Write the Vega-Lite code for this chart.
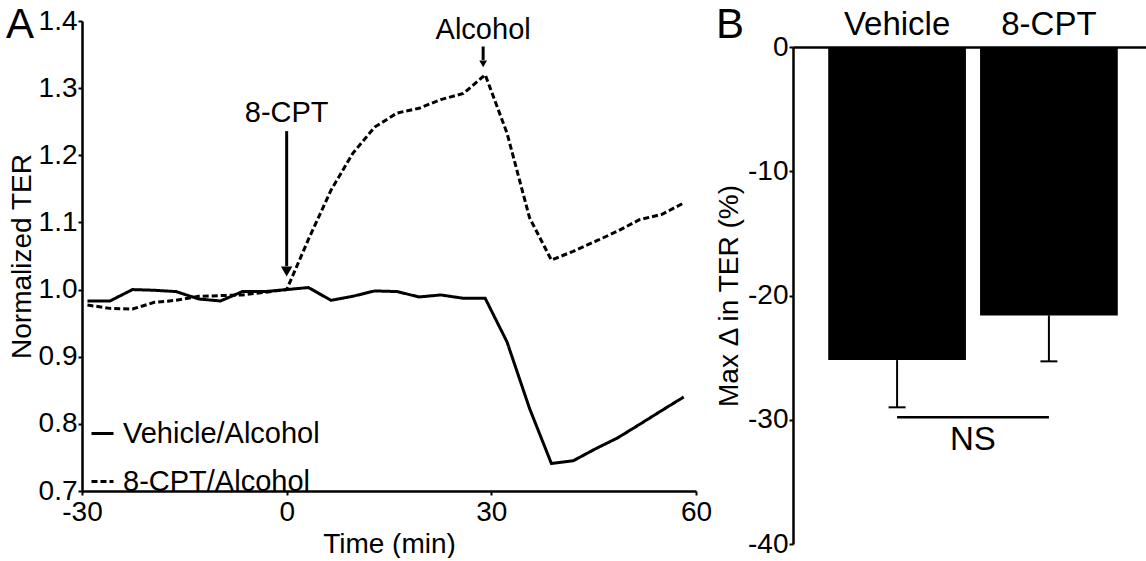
{
  "$schema": "https://vega.github.io/schema/vega-lite/v6.json",
  "background": "white",
  "padding": {"left": 6, "top": 4, "right": 0, "bottom": 0},
  "spacing": 3,
  "config": {
    "font": "Liberation Sans",
    "view": {"stroke": null},
    "axis": {
      "grid": false,
      "domainColor": "black",
      "tickColor": "black",
      "labelColor": "black",
      "titleColor": "black",
      "domainWidth": 2.5,
      "tickWidth": 2,
      "tickSize": 4,
      "labelFont": "Liberation Sans",
      "titleFont": "Liberation Sans",
      "titleFontWeight": "normal",
      "labelFontSize": 28,
      "titleFontSize": 28,
      "labelFlush": false
    }
  },
  "datasets": {
    "ter": [
      {"time": -29.2, "ter": 0.983, "series": "Vehicle/Alcohol"},
      {"time": -25.9, "ter": 0.983, "series": "Vehicle/Alcohol"},
      {"time": -22.6, "ter": 1.0, "series": "Vehicle/Alcohol"},
      {"time": -19.4, "ter": 0.999, "series": "Vehicle/Alcohol"},
      {"time": -16.2, "ter": 0.997, "series": "Vehicle/Alcohol"},
      {"time": -12.9, "ter": 0.986, "series": "Vehicle/Alcohol"},
      {"time": -9.7, "ter": 0.983, "series": "Vehicle/Alcohol"},
      {"time": -6.5, "ter": 0.997, "series": "Vehicle/Alcohol"},
      {"time": -3.2, "ter": 0.997, "series": "Vehicle/Alcohol"},
      {"time": 0, "ter": 1.0, "series": "Vehicle/Alcohol"},
      {"time": 3.2, "ter": 1.003, "series": "Vehicle/Alcohol"},
      {"time": 6.5, "ter": 0.984, "series": "Vehicle/Alcohol"},
      {"time": 9.7, "ter": 0.99, "series": "Vehicle/Alcohol"},
      {"time": 12.9, "ter": 0.998, "series": "Vehicle/Alcohol"},
      {"time": 16.2, "ter": 0.997, "series": "Vehicle/Alcohol"},
      {"time": 19.4, "ter": 0.989, "series": "Vehicle/Alcohol"},
      {"time": 22.6, "ter": 0.992, "series": "Vehicle/Alcohol"},
      {"time": 25.9, "ter": 0.987, "series": "Vehicle/Alcohol"},
      {"time": 29.1, "ter": 0.987, "series": "Vehicle/Alcohol"},
      {"time": 32.3, "ter": 0.922, "series": "Vehicle/Alcohol"},
      {"time": 35.6, "ter": 0.823, "series": "Vehicle/Alcohol"},
      {"time": 38.8, "ter": 0.741, "series": "Vehicle/Alcohol"},
      {"time": 42.0, "ter": 0.745, "series": "Vehicle/Alcohol"},
      {"time": 45.3, "ter": 0.763, "series": "Vehicle/Alcohol"},
      {"time": 48.5, "ter": 0.779, "series": "Vehicle/Alcohol"},
      {"time": 51.7, "ter": 0.799, "series": "Vehicle/Alcohol"},
      {"time": 55.0, "ter": 0.82, "series": "Vehicle/Alcohol"},
      {"time": 58.2, "ter": 0.84, "series": "Vehicle/Alcohol"},
      {"time": -29.2, "ter": 0.977, "series": "8-CPT/Alcohol"},
      {"time": -25.9, "ter": 0.972, "series": "8-CPT/Alcohol"},
      {"time": -22.6, "ter": 0.971, "series": "8-CPT/Alcohol"},
      {"time": -19.4, "ter": 0.981, "series": "8-CPT/Alcohol"},
      {"time": -16.2, "ter": 0.984, "series": "8-CPT/Alcohol"},
      {"time": -12.9, "ter": 0.99, "series": "8-CPT/Alcohol"},
      {"time": -9.7, "ter": 0.991, "series": "8-CPT/Alcohol"},
      {"time": -6.5, "ter": 0.992, "series": "8-CPT/Alcohol"},
      {"time": -3.2, "ter": 0.996, "series": "8-CPT/Alcohol"},
      {"time": 0, "ter": 1.0, "series": "8-CPT/Alcohol"},
      {"time": 3.2, "ter": 1.075, "series": "8-CPT/Alcohol"},
      {"time": 6.5, "ter": 1.148, "series": "8-CPT/Alcohol"},
      {"time": 9.7, "ter": 1.203, "series": "8-CPT/Alcohol"},
      {"time": 12.9, "ter": 1.242, "series": "8-CPT/Alcohol"},
      {"time": 16.2, "ter": 1.263, "series": "8-CPT/Alcohol"},
      {"time": 19.4, "ter": 1.27, "series": "8-CPT/Alcohol"},
      {"time": 22.6, "ter": 1.283, "series": "8-CPT/Alcohol"},
      {"time": 25.9, "ter": 1.292, "series": "8-CPT/Alcohol"},
      {"time": 29.1, "ter": 1.32, "series": "8-CPT/Alcohol"},
      {"time": 32.3, "ter": 1.233, "series": "8-CPT/Alcohol"},
      {"time": 35.6, "ter": 1.107, "series": "8-CPT/Alcohol"},
      {"time": 38.8, "ter": 1.044, "series": "8-CPT/Alcohol"},
      {"time": 42.0, "ter": 1.057, "series": "8-CPT/Alcohol"},
      {"time": 45.3, "ter": 1.072, "series": "8-CPT/Alcohol"},
      {"time": 48.5, "ter": 1.087, "series": "8-CPT/Alcohol"},
      {"time": 51.7, "ter": 1.104, "series": "8-CPT/Alcohol"},
      {"time": 55.0, "ter": 1.112, "series": "8-CPT/Alcohol"},
      {"time": 58.2, "ter": 1.129, "series": "8-CPT/Alcohol"}
    ],
    "arrows": [
      {"time": 0, "top": 1.236, "bottom": 1.035, "head": 1.027, "label": "8-CPT", "labelY": 1.263},
      {"time": 28.8, "top": 1.362, "bottom": 1.342, "head": 1.336, "label": "Alcohol", "labelY": 1.387}
    ],
    "bars": [
      {"group": "Vehicle", "mean": -25.2, "lower": -29.0},
      {"group": "8-CPT", "mean": -21.6, "lower": -25.3}
    ],
    "ns": [
      {"from": "Vehicle", "to": "8-CPT", "y": -29.8, "textY": -31.6, "label": "NS"}
    ]
  },
  "hconcat": [
    {
      "width": 614,
      "height": 470,
      "layer": [
        {
          "data": {"name": "ter"},
          "mark": {"type": "line", "color": "black", "strokeWidth": 3},
          "encoding": {
            "x": {"field": "time", "type": "quantitative", "scale": {"domain": [-30, 60], "nice": false},
              "axis": {"values": [-30, 0, 30, 60], "title": "Time (min)", "labelPadding": 3, "titlePadding": 4,
                "labelExpr": "replace(datum.label, '−', '-')"}},
            "y": {"field": "ter", "type": "quantitative", "scale": {"domain": [0.7, 1.4], "nice": false, "zero": false},
              "axis": {"values": [0.7, 0.8, 0.9, 1.0, 1.1, 1.2, 1.3, 1.4], "labelExpr": "format(datum.value, '.1f')",
                "title": "Normalized TER", "labelPadding": 1, "titlePadding": 2}},
            "strokeDash": {"field": "series", "type": "nominal",
              "scale": {"domain": ["Vehicle/Alcohol", "8-CPT/Alcohol"], "range": [[1, 0], [6, 3]]},
              "legend": {"orient": "none", "legendX": 6, "legendY": 398, "title": null, "labelFontSize": 29,
                "labelColor": "black", "labelLimit": 0, "symbolStrokeWidth": 3, "symbolSize": 484, "symbolStrokeColor": "black",
                "symbolType": "stroke", "rowPadding": 18, "labelOffset": 6, "padding": 0}}
          }
        },
        {
          "data": {"name": "arrows"},
          "mark": {"type": "rule", "color": "black", "strokeWidth": 3},
          "encoding": {
            "x": {"field": "time", "type": "quantitative"},
            "y": {"field": "top", "type": "quantitative"},
            "y2": {"field": "bottom"}
          }
        },
        {
          "data": {"name": "arrows"},
          "transform": [{"filter": "datum.label == '8-CPT'"}],
          "mark": {"type": "point", "shape": "triangle-down", "filled": true, "color": "black", "opacity": 1, "size": 130},
          "encoding": {
            "x": {"field": "time", "type": "quantitative"},
            "y": {"field": "head", "type": "quantitative"}
          }
        },
        {
          "data": {"name": "arrows"},
          "transform": [{"filter": "datum.label == 'Alcohol'"}],
          "mark": {"type": "point", "shape": "triangle-down", "filled": true, "color": "black", "opacity": 1, "size": 60},
          "encoding": {
            "x": {"field": "time", "type": "quantitative"},
            "y": {"field": "head", "type": "quantitative"}
          }
        },
        {
          "data": {"name": "arrows"},
          "mark": {"type": "text", "color": "black", "fontSize": 29, "baseline": "middle"},
          "encoding": {
            "x": {"field": "time", "type": "quantitative"},
            "y": {"field": "labelY", "type": "quantitative"},
            "text": {"field": "label"}
          }
        },
        {
          "data": {"values": [{"panel": "A"}]},
          "mark": {"type": "text", "color": "black", "fontSize": 42, "align": "left", "baseline": "top", "dx": -76, "dy": -16},
          "encoding": {
            "x": {"datum": -30, "type": "quantitative"},
            "y": {"datum": 1.4, "type": "quantitative"},
            "text": {"field": "panel"}
          }
        }
      ]
    },
    {
      "width": 360,
      "height": 523,
      "layer": [
        {
          "data": {"name": "bars"},
          "mark": {"type": "bar", "color": "black"},
          "encoding": {
            "x": {"field": "group", "type": "nominal",
              "scale": {"domain": ["Vehicle", "8-CPT"], "paddingInner": 0.093, "paddingOuter": 0.232},
              "axis": {"orient": "top", "title": null, "ticks": false, "labelAngle": 0, "labelFontSize": 33, "labelPadding": 6, "offset": -26}},
            "y": {"field": "mean", "type": "quantitative", "scale": {"domain": [-40, 0], "nice": false, "range": [523, 26]},
              "axis": {"values": [0, -10, -20, -30, -40], "title": "Max Δ in TER (%)", "labelPadding": 1, "titlePadding": 4,
                "labelExpr": "replace(datum.label, '−', '-')"}}
          }
        },
        {
          "data": {"name": "bars"},
          "mark": {"type": "rule", "color": "black", "strokeWidth": 2},
          "encoding": {
            "x": {"field": "group", "type": "nominal"},
            "y": {"field": "mean", "type": "quantitative"},
            "y2": {"field": "lower"}
          }
        },
        {
          "data": {"name": "bars"},
          "mark": {"type": "tick", "orient": "horizontal", "color": "black", "size": 17, "thickness": 2, "opacity": 1},
          "encoding": {
            "x": {"field": "group", "type": "nominal"},
            "y": {"field": "lower", "type": "quantitative"}
          }
        },
        {
          "data": {"name": "ns"},
          "mark": {"type": "rule", "color": "black", "strokeWidth": 2.5},
          "encoding": {
            "x": {"field": "from", "type": "nominal"},
            "x2": {"field": "to"},
            "y": {"field": "y", "type": "quantitative"}
          }
        },
        {
          "data": {"name": "ns"},
          "mark": {"type": "text", "color": "black", "fontSize": 33, "baseline": "middle"},
          "encoding": {
            "x": {"field": "from", "type": "nominal", "bandPosition": 1.05},
            "y": {"field": "textY", "type": "quantitative"},
            "text": {"field": "label"}
          }
        },
        {
          "data": {"values": [{"panel": "B"}]},
          "mark": {"type": "text", "color": "black", "fontSize": 42, "align": "left", "baseline": "top", "dx": -77, "dy": -42},
          "encoding": {
            "x": {"value": 0},
            "y": {"datum": 0, "type": "quantitative"},
            "text": {"field": "panel"}
          }
        }
      ]
    }
  ]
}
